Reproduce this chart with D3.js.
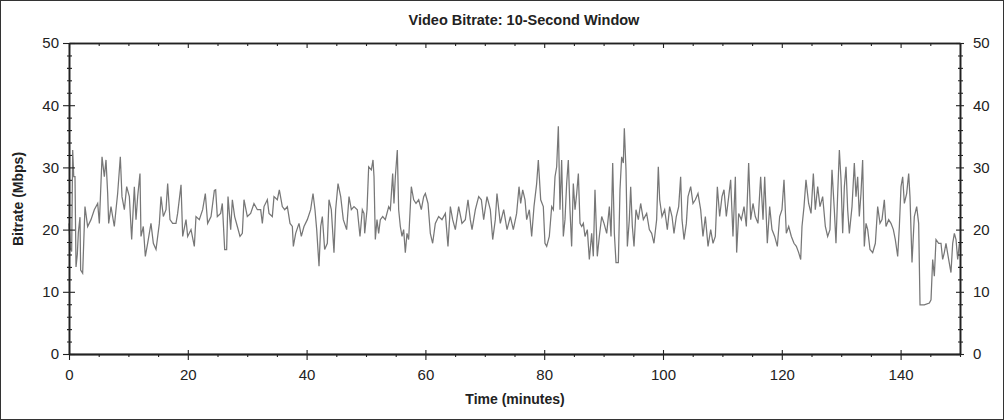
<!DOCTYPE html>
<html><head><meta charset="utf-8">
<script src="https://cdn.jsdelivr.net/npm/d3@7"></script>
<style>
html,body{margin:0;padding:0;background:#fff;}
svg{display:block;}
</style></head>
<body>
<svg id="chart" width="1004" height="420"></svg>
<script>
// [minute, Mbps] samples, by segment
const bitrate0to25 = [[0,21],[0.2,17],[0.45,16.5],[0.62,32.8],[0.8,28.5],[1.01,28.5],[1.18,14],[1.4,16],[1.57,19.5],[1.85,22],[1.96,13.5],[2.3,13],[2.69,23.7],
[3.14,20.5],[3.70,21.6],[4.26,23.2],[4.83,24.2],[5.11,21],[5.56,31.7],[5.95,28.5],[6.23,31.2],[6.51,25.8],[6.68,21],[7.07,23.7],[7.63,20.5],[7.91,23.2],[8.19,25.8],[8.64,31.7],[8.92,25.3],[9.32,23.2],[9.71,26.9],[10.16,25.3],[10.55,18.4],[11.0,26.9],[11.28,21.6],[11.56,25.3],[11.95,29],[12.12,18.9],[12.51,20.5],[12.85,15.7],[13.24,17.8],[13.80,21],[14.20,17.8],[14.65,16.8],[15.21,21],[15.49,25.3],[15.88,22.1],[16.33,23.2],[16.61,27.4],[17.0,21.6],[17.45,21],[18.01,21],[18.29,22.6],[18.86,27.2],[19.14,18.9],[19.70,21.6],[19.98,18.9],[20.54,20],[21.10,17.3],[21.38,22.1],[21.94,21.6],[22.50,23.2],[22.95,25.8],[23.34,21],[23.91,22.1],[24.47,26.3]];
const bitrate25to50 = [[24.69,26.4],[24.97,22.1],[25.53,22.6],[25.81,24.2],[26.21,16.8],[26.54,16.8],[26.77,25.3],[27.22,20],[27.50,24.8],[27.89,22.1],[28.34,20.5],[28.79,18.9],[29.18,19.4],[29.46,24.8],[30.02,22.1],[30.58,22.6],[31.14,24.2],[31.71,23.2],[32.27,23.2],[32.55,21],[32.83,23.7],[33.39,24.8],[33.67,22.6],[34.23,22.1],[34.51,25.3],[35.07,24.8],[35.41,26.4],[35.91,23.7],[36.31,23.2],[36.76,23.7],[37.21,21],[37.6,20.5],[37.77,17.3],[38.16,19.4],[38.72,21],[39.11,18.9],[39.56,20.5],[40.12,21.6],[40.68,23.2],[41.08,25.8],[41.41,23.2],[41.70,20],[42.09,14.1],[42.37,20.5],[42.65,22.1],[43.04,16.8],[43.49,17.8],[43.77,24.8],[44.16,23.2],[44.61,16.3],[44.89,23.2],[45.29,27.4],[45.74,25.3],[46.18,21.6],[46.74,20],[47.14,25.3],[47.53,23.2],[47.98,23.7],[48.54,23.2],[48.99,18.9],[49.38,23.2],[49.66,22.6]];
const bitrate50to75 = [[49.78,19.4],[50.17,23.2],[50.45,30.1],[50.90,29.6],[51.18,31.2],[51.35,28.5],[51.57,18.4],[51.85,21.6],[52.13,19.4],[52.41,21.6],[52.81,22.1],[53.25,21.6],[53.82,23.7],[54.10,23.2],[54.49,29],[54.71,24.2],[54.94,28.5],[55.27,32.8],[55.50,23.2],[55.78,20.5],[56.06,18.9],[56.34,20],[56.62,16.3],[56.90,19.4],[57.18,18.4],[57.63,26.9],[58.03,24.8],[58.42,24.2],[58.87,24.8],[59.31,23.2],[59.71,25.3],[59.99,25.8],[60.44,24.2],[60.83,19.4],[61.22,17.8],[61.67,21],[62.23,22.1],[62.79,21.6],[63.36,22.6],[63.80,17.3],[64.20,23.7],[64.59,21.6],[65.04,20],[65.60,23.7],[66.16,21],[66.72,21.6],[67.17,24.8],[67.56,21.6],[67.85,20],[68.41,23.2],[68.97,25.3],[69.42,24.8],[69.81,21.6],[70.37,25.3],[70.93,23.2],[71.33,18.4],[71.77,21.6],[72.05,25.8],[72.61,21],[73.18,23.2],[73.74,20],[74.30,22.1]];
const bitrate75to100 = [[74.80,20],[75.36,22.6],[75.76,26.9],[76.04,24.2],[76.38,26.4],[76.77,24.8],[77.05,21.6],[77.50,23.2],[77.89,18.9],[78.28,23.7],[78.73,27.4],[79.01,31.2],[79.41,24.8],[79.85,23.7],[80.13,17.8],[80.42,17.3],[80.86,18.9],[81.26,23.7],[81.54,23.2],[81.82,28.5],[82.10,30.1],[82.38,36.6],[82.66,23.2],[82.94,31.2],[83.22,18.9],[83.50,21.6],[83.78,27.4],[84.06,31.2],[84.34,23.2],[84.62,17.3],[84.90,27.4],[85.19,23.2],[85.47,25.8],[85.75,29],[86.03,21],[86.31,20.5],[86.59,21],[86.87,18.9],[87.26,20],[87.60,15.2],[87.99,19.4],[88.27,15.7],[88.55,26.4],[88.94,15.7],[89.28,18.9],[89.68,22.1],[90.07,21],[90.52,19.4],[90.97,23.7],[91.25,18.9],[91.53,30.7],[91.81,19.4],[92.09,14.7],[92.48,14.7],[92.76,26.4],[93.04,31.7],[93.32,30.7],[93.49,36.3],[93.77,29.6],[94.00,17.3],[94.33,21.6],[94.56,26.9],[94.84,20.5],[95.12,17.3],[95.45,23.2],[95.85,21.6],[96.24,24.2],[96.69,21.6],[97.25,22.6],[97.70,20],[98.09,19.4],[98.48,17.8],[98.93,21.6],[99.21,30.1]];
const bitrate100to125 = [[99.44,24.8],[99.83,22.1],[100.28,23.2],[100.73,20],[101.12,23.7],[101.52,22.1],[101.85,19.4],[102.24,22.1],[102.64,23.7],[102.97,28.5],[103.20,21.6],[103.54,18.4],[103.93,21],[104.21,25.3],[104.66,26.9],[105.05,24.2],[105.44,24.8],[105.89,25.8],[106.34,23.2],[106.73,18.9],[107.13,22.1],[107.58,17.3],[108.03,20],[108.42,17.8],[108.81,18.9],[109.15,26.9],[109.54,22.1],[109.93,25.3],[110.27,26.4],[110.66,22.1],[111.06,25.3],[111.39,28],[111.78,18.9],[112.18,28.5],[112.40,16.3],[112.74,22.6],[113.19,21.6],[113.64,23.7],[114.03,20.5],[114.42,30.7],[114.76,21.6],[115.15,24.2],[115.54,22.1],[115.99,21],[116.44,28.5],[116.84,21.6],[117.12,28.5],[117.56,17.8],[117.96,23.7],[118.35,20],[118.80,18.9],[119.25,17.3],[119.64,22.1],[120.03,23.2],[120.37,28],[120.76,19.4],[121.16,20.5],[121.61,18.9],[122.05,17.8],[122.45,17.3],[122.84,16.3],[123.18,15.2],[123.40,20.5],[123.74,23.7]];
const bitrate125to150 = [[124.07,28],[124.52,24.2],[124.92,22.6],[125.31,29],[125.64,23.2],[126.04,26.9],[126.43,23.7],[126.88,25.3],[127.33,20.5],[127.72,18.9],[128.11,20],[128.45,29.6],[128.84,23.2],[129.12,17.8],[129.41,25.8],[129.69,32.8],[129.97,28],[130.25,19.4],[130.53,26.9],[130.81,30.1],[131.09,23.2],[131.37,19.4],[131.82,23.7],[132.21,30.7],[132.49,25.3],[132.77,28.5],[133.05,22.1],[133.33,25.8],[133.61,31.2],[133.89,17.3],[134.18,21],[134.46,20],[134.85,16.8],[135.30,16.3],[135.75,17.8],[136.14,23.7],[136.53,21],[136.87,21.6],[137.26,24.8],[137.54,20.5],[137.99,21.6],[138.38,21],[138.78,20],[139.11,18.4],[139.51,15.7],[139.79,20.5],[140.07,26.9],[140.35,28.5],[140.63,24.2],[141.02,25.8],[141.36,29],[141.58,25.3],[141.92,14.7],[142.31,22.1],[142.71,23.7],[143.04,21],[143.27,7.9],[143.99,7.9],[144.84,8.2],[145.12,8.7],[145.40,15.2],[145.68,12.5],[145.96,18.4],[146.41,17.8],[146.80,17.8],[147.08,15.2],[147.36,16.3],[147.64,17.8],[148.09,15.2],[148.48,13.1],[148.77,17.8],[149.05,19.4],[149.33,18.4],[149.61,15.2],[149.89,17.8]];

const xMajorTicks = [0,20,40,60,80,100,120,140];
const yMajorTicks = [0,10,20,30,40,50];
const titleText = "Video Bitrate: 10-Second Window";
const xLabelText = "Time (minutes)";
const yLabelText = "Bitrate (Mbps)";

const samples = [].concat(bitrate0to25, bitrate25to50, bitrate50to75, bitrate75to100, bitrate100to125, bitrate125to150);

const svg = d3.select("#chart");
const L = 69, R = 960, T = 43, B = 354;
const x = d3.scaleLinear().domain([0,150]).range([L,R]);
const y = d3.scaleLinear().domain([0,50]).range([B,T]);
const font = "'Liberation Sans', Arial, sans-serif";
const axisColor = "#222";

// outer border
svg.append("rect").attr("x",0.5).attr("y",0.5).attr("width",1003).attr("height",419)
  .attr("fill","#fff").attr("stroke","#333").attr("stroke-width",1);

// line
const line = d3.line().x(d=>x(d[0])).y(d=>y(d[1]));
svg.append("path").datum(samples).attr("d",line)
  .attr("fill","none").attr("stroke","#777").attr("stroke-width",1.25);

const xMinor = d3.range(0,151,5).filter(v=>!xMajorTicks.includes(v));
const yMinor = d3.range(0,51,2).filter(v=>!yMajorTicks.includes(v));

function styleAxis(g){
  g.select(".domain").attr("stroke",axisColor).attr("stroke-width",1.3);
  g.selectAll(".tick line").attr("stroke",axisColor).attr("stroke-width",1.1);
  g.selectAll("text").attr("fill","#222").attr("font-family",font).attr("font-size","15px");
}
// left
svg.append("g").attr("transform",`translate(${L},0)`)
  .call(d3.axisLeft(y).tickValues(yMajorTicks).tickSize(6).tickSizeOuter(0).tickPadding(4)).call(styleAxis);
svg.append("g").attr("transform",`translate(${L},0)`)
  .call(d3.axisRight(y).tickValues(yMajorTicks).tickSize(6).tickSizeOuter(0).tickFormat("")).call(styleAxis);
svg.append("g").attr("transform",`translate(${L},0)`)
  .call(d3.axisLeft(y).tickValues(yMinor).tickSize(2).tickSizeOuter(0).tickFormat("")).call(styleAxis);
svg.append("g").attr("transform",`translate(${L},0)`)
  .call(d3.axisRight(y).tickValues(yMinor).tickSize(3).tickSizeOuter(0).tickFormat("")).call(styleAxis);
// right
svg.append("g").attr("transform",`translate(${R},0)`)
  .call(d3.axisRight(y).tickValues(yMajorTicks).tickSize(4).tickSizeOuter(0).tickPadding(9)).call(styleAxis);
svg.append("g").attr("transform",`translate(${R},0)`)
  .call(d3.axisLeft(y).tickValues(yMajorTicks).tickSize(4).tickSizeOuter(0).tickFormat("")).call(styleAxis);
svg.append("g").attr("transform",`translate(${R},0)`)
  .call(d3.axisRight(y).tickValues(yMinor).tickSize(3).tickSizeOuter(0).tickFormat("")).call(styleAxis);
svg.append("g").attr("transform",`translate(${R},0)`)
  .call(d3.axisLeft(y).tickValues(yMinor).tickSize(2).tickSizeOuter(0).tickFormat("")).call(styleAxis);
// bottom
svg.append("g").attr("transform",`translate(0,${B})`)
  .call(d3.axisBottom(x).tickValues(xMajorTicks).tickSize(6).tickSizeOuter(0).tickPadding(9)).call(styleAxis);
svg.append("g").attr("transform",`translate(0,${B})`)
  .call(d3.axisTop(x).tickValues(xMajorTicks).tickSize(4).tickSizeOuter(0).tickFormat("")).call(styleAxis);
svg.append("g").attr("transform",`translate(0,${B})`)
  .call(d3.axisBottom(x).tickValues(xMinor).tickSize(3).tickSizeOuter(0).tickFormat("")).call(styleAxis);
// top
svg.append("g").attr("transform",`translate(0,${T})`)
  .call(d3.axisBottom(x).tickValues(xMajorTicks).tickSize(5).tickSizeOuter(0).tickFormat("")).call(styleAxis);
svg.append("g").attr("transform",`translate(0,${T})`)
  .call(d3.axisBottom(x).tickValues(xMinor).tickSize(3).tickSizeOuter(0).tickFormat("")).call(styleAxis);

// titles
svg.append("text").attr("x",524).attr("y",25).attr("text-anchor","middle")
  .attr("font-family",font).attr("font-weight","bold").attr("font-size","14.5px").attr("fill","#222").text(titleText);
svg.append("text").attr("x",515).attr("y",404).attr("text-anchor","middle")
  .attr("font-family",font).attr("font-weight","bold").attr("font-size","14px").attr("fill","#222").text(xLabelText);
svg.append("text").attr("transform","translate(23,199) rotate(-90)").attr("text-anchor","middle")
  .attr("font-family",font).attr("font-weight","bold").attr("font-size","14px").attr("fill","#222").text(yLabelText);
</script>
</body></html>
